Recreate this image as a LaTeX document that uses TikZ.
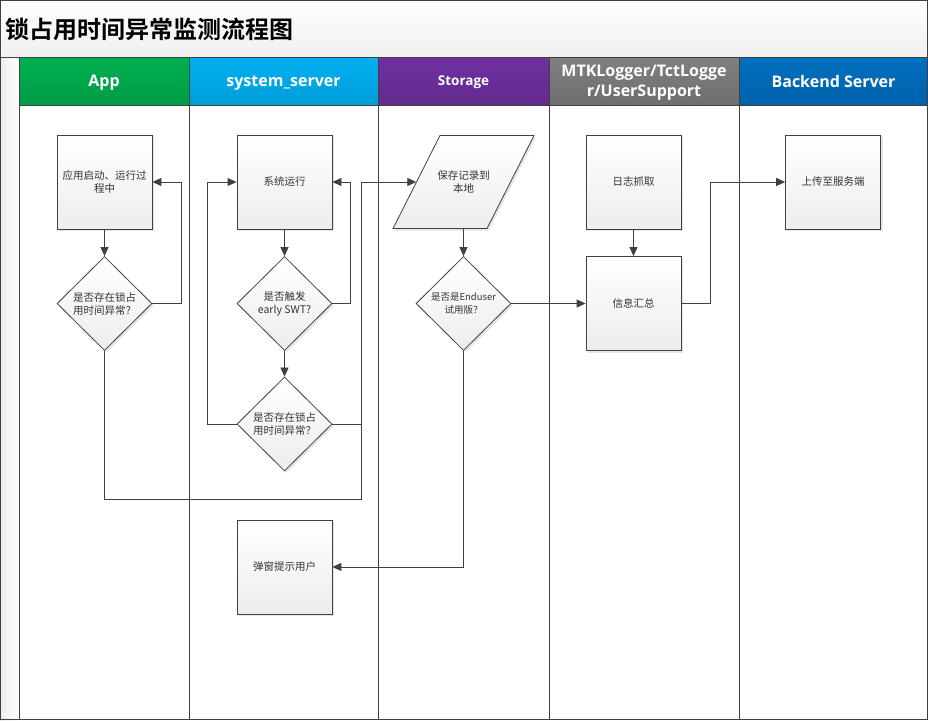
\documentclass[tikz,border=0pt]{standalone}
\usepackage{fontspec}
\setmainfont{Noto Sans CJK SC}
\newfontfamily\titlefont{Noto Sans CJK SC Bold}
\newfontfamily\lanefont{Open Sans}
\usetikzlibrary{shapes.geometric,arrows.meta,shadows}
\definecolor{linegray}{HTML}{404040}
\definecolor{textgray}{HTML}{333333}
\definecolor{boxgray}{HTML}{EDEDED}
\definecolor{appgreen}{HTML}{00B050}
\definecolor{appgreendark}{HTML}{009C47}
\definecolor{syscyan}{HTML}{00B0F0}
\definecolor{syscyandark}{HTML}{009DD8}
\definecolor{storepurple}{HTML}{7030A0}
\definecolor{storepurpledark}{HTML}{612A8E}
\definecolor{loggray}{HTML}{808080}
\definecolor{loggraydark}{HTML}{6E6E6E}
\definecolor{serverblue}{HTML}{0070C0}
\definecolor{serverbluedark}{HTML}{0061AA}
\tikzset{
    boxfill/.style ={
        draw=linegray,
        line width=0.8pt,
        top color=white,
        bottom color=boxgray,
        general shadow={fill=black!10, shadow xshift=2pt, shadow yshift=-2pt}
    },
    proc/.style ={
        boxfill,
        shape=rectangle,
        minimum width=95pt,
        minimum height=94pt,
        inner sep=1pt,
        text=textgray,
        align=center,
        font=\fontsize{10.5}{13}\selectfont
    },
    decide/.style ={
        proc,
        shape=diamond,
        inner sep=0pt
    },
    store/.style ={
        shape=rectangle,
        minimum width=94pt,
        minimum height=93pt,
        inner sep=1pt,
        text=textgray,
        align=center,
        font=\fontsize{10.5}{13}\selectfont
    },
    lanehead/.style ={
        draw=linegray,
        line width=0.8pt,
        minimum height=48pt,
        inner sep=0pt,
        text depth=0pt,
        text=white,
        align=center,
        font=\lanefont\bfseries\fontsize{16}{20}\selectfont
    },
    flow/.style ={
        draw=linegray,
        line width=0.8pt,
        -{Triangle[length=9pt,width=8pt]}
    },
    link/.style ={
        draw=linegray,
        line width=0.8pt
    }
}
\begin{document}
\begin{tikzpicture}[x=1pt,y=-1pt]
    \useasboundingbox (0,0) rectangle (928,720);
    % title band and left strip
    \shade[top color=white, bottom color=black!6] (0,0) rectangle (928,57);
    \shade[left color=black!7, right color=white] (0,57) rectangle (19,720);
    \node[anchor=west, font=\titlefont\fontsize{24}{24}\selectfont] (title) at (2,29) {锁占用时间异常监测流程图};
    % lane headers
    \node[lanehead, minimum width=170pt, top color=appgreen, bottom color=appgreendark] (hApp) at (104,81) {App};
    \node[lanehead, minimum width=189pt, top color=syscyan, bottom color=syscyandark] (hSys) at (283.5,81) {system\_server};
    \node[lanehead, minimum width=171pt, top color=storepurple, bottom color=storepurpledark,
          font=\lanefont\bfseries\fontsize{13.5}{15}\selectfont] (hStore) at (463.5,81) {Storage};
    \node[lanehead, minimum width=190pt, top color=loggray, bottom color=loggraydark] (hLog) at (644,81) {MTKLogger/TctLogge\\r/UserSupport};
    \node[lanehead, minimum width=189pt, top color=serverblue, bottom color=serverbluedark] (hServer) at (833.5,81) {Backend Server};
    % lane borders
    \draw[link] (0,57) -- (928,57);
    \draw[link] (19,57) -- (19,720);
    \draw[link] (189,105) -- (189,720);
    \draw[link] (378,105) -- (378,720);
    \draw[link] (549,105) -- (549,720);
    \draw[link] (739,105) -- (739,720);
    \draw[link] (0.5,0.5) rectangle (927.5,719.5);

    \node[proc] (app) at (104.5,182) {应用启动、运行过\\程中};
    \node[decide] (appq) at (104.5,303.5) {是否存在锁占\\用时间异常？};
    \node[proc] (sys) at (284.5,182) {系统运行};
    \node[decide] (swt) at (284.5,303.5) {是否触发\\early SWT?};
    \node[decide] (lockq) at (284.5,424) {是否存在锁占\\用时间异常？};
    \node[proc] (popup) at (284.5,567) {弹窗提示用户};
    % parallelogram
    \draw[boxfill] (440,135.5) -- (534,135.5) -- (487,228.5) -- (393,228.5) -- cycle;
    \node[store] (save) at (463.5,182) {保存记录到\\本地};
    \node[decide, font=\fontsize{9.5}{13}\selectfont] (enduser) at (463.5,303.5) {是否是Enduser\\试用版？};
    \node[proc] (log) at (633.5,182) {日志抓取};
    \node[proc] (collect) at (633.5,303.5) {信息汇总};
    \node[proc] (upload) at (833,182) {上传至服务端};
    \coordinate (merge) at (361,499);

    \draw[flow] (app) -- (appq);
    \draw[flow] (appq.east) -- ++(29,0) |- (app.east);
    \draw[flow] (sys) -- (swt);
    \draw[flow] (swt.east) -- ++(18,0) |- (sys.east);
    \draw[flow] (swt) -- (lockq);
    \draw[flow] (lockq.west) -- ++(-29,0) |- (sys.west);
    \draw[link] (lockq.east) -- (lockq.east -| merge);
    \draw[flow] (appq.south) |- (merge) |- (save.west);
    \draw[flow] (save) -- (enduser);
    \draw[flow] (enduser) -- (collect);
    \draw[flow] (enduser.south) |- (popup.east);
    \draw[flow] (log) -- (collect);
    \draw[flow] (collect.east) -- ++(29,0) |- (upload.west);
\end{tikzpicture}
\end{document}
